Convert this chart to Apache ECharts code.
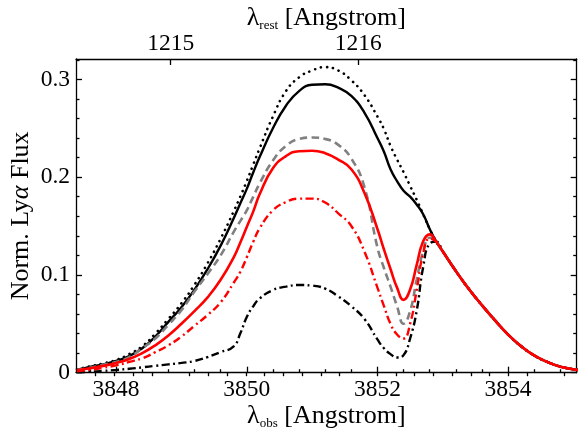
<!DOCTYPE html>
<html>
<head>
<meta charset="utf-8">
<script src="https://cdn.jsdelivr.net/npm/echarts@6/dist/echarts.min.js"></script>
<style>
html, body { margin: 0; padding: 0; background: #fff; }
#chart { width: 578px; height: 431px; }
</style>
</head>
<body>
<div id="chart"></div>
<script>
// observed wavelength grid [Angstrom]
var wl = [3847.4, 3847.6, 3847.8, 3848.0, 3848.2, 3848.4, 3848.6, 3848.8, 3849.0, 3849.2,
  3849.4, 3849.6, 3849.8, 3849.9, 3850.0, 3850.1, 3850.2, 3850.4, 3850.6, 3850.8,
  3851.0, 3851.2, 3851.4, 3851.6, 3851.8, 3852.0, 3852.1, 3852.2, 3852.3, 3852.4,
  3852.5, 3852.6, 3852.7, 3852.8, 3852.9, 3853.0, 3853.2, 3853.4, 3853.6, 3853.8,
  3854.0, 3854.2, 3854.4, 3854.6, 3854.8, 3855.0, 3855.1];

var fluxIntrinsic = [0.0035, 0.0065, 0.0095, 0.013, 0.019, 0.027, 0.040, 0.055, 0.071, 0.090,
  0.112, 0.137, 0.165, 0.180, 0.196, 0.213, 0.230, 0.262, 0.288, 0.302,
  0.309, 0.3125, 0.309, 0.299, 0.284, 0.262, 0.249, 0.232, 0.218, 0.205,
  0.191, 0.177, 0.162, 0.147, 0.134, 0.124, 0.104, 0.0855, 0.069, 0.0535,
  0.039, 0.027, 0.0176, 0.011, 0.0062, 0.0035, 0.0026];

var fluxSolidBlack = [0.003, 0.006, 0.0085, 0.012, 0.017, 0.025, 0.037, 0.052, 0.067, 0.085,
  0.106, 0.130, 0.158, 0.173, 0.188, 0.205, 0.221, 0.250, 0.273, 0.288,
  0.2945, 0.295, 0.2915, 0.283, 0.266, 0.240, 0.226, 0.208, 0.196, 0.186,
  0.180, 0.172, 0.162, 0.147, 0.134, 0.124, 0.104, 0.0855, 0.069, 0.0535,
  0.039, 0.027, 0.0176, 0.011, 0.0062, 0.0035, 0.0026];

var fluxGrey = [0.003, 0.005, 0.008, 0.011, 0.016, 0.025, 0.035, 0.049, 0.064, 0.083,
  0.101, 0.120, 0.144, 0.155, 0.166, 0.180, 0.194, 0.217, 0.232, 0.239,
  0.2405, 0.239, 0.233, 0.219, 0.190, 0.128, 0.107, 0.088, 0.068, 0.050,
  0.063, 0.095, 0.124, 0.138, 0.134, 0.124, 0.104, 0.0855, 0.069, 0.0535,
  0.039, 0.027, 0.0176, 0.011, 0.0062, 0.0035, 0.0026];

var fluxRed = [0.0025, 0.0045, 0.007, 0.010, 0.014, 0.020, 0.028, 0.038, 0.050, 0.063,
  0.077, 0.095, 0.118, 0.133, 0.149, 0.165, 0.183, 0.209, 0.2215, 0.2265,
  0.227, 0.2245, 0.218, 0.208, 0.184, 0.147, 0.126, 0.106, 0.087, 0.0745,
  0.085, 0.110, 0.1345, 0.1415, 0.134, 0.124, 0.104, 0.0855, 0.069, 0.0535,
  0.039, 0.027, 0.0176, 0.011, 0.0062, 0.0035, 0.0026];

var fluxRedDashDot = [0.0015, 0.003, 0.005, 0.0075, 0.011, 0.0147, 0.021, 0.028, 0.037, 0.048,
  0.059, 0.072, 0.092, 0.103, 0.118, 0.134, 0.148, 0.166, 0.1745, 0.178,
  0.178, 0.174, 0.163, 0.150, 0.124, 0.087, 0.068, 0.050, 0.039, 0.035,
  0.050, 0.084, 0.122, 0.137, 0.134, 0.124, 0.104, 0.0855, 0.069, 0.0535,
  0.039, 0.027, 0.0176, 0.011, 0.0062, 0.0035, 0.0026];

var fluxBlackDashDot = [0.0005, 0.001, 0.0018, 0.0028, 0.004, 0.0055, 0.007, 0.0085, 0.010, 0.012,
  0.016, 0.021, 0.027, 0.040, 0.057, 0.068, 0.076, 0.0845, 0.088, 0.0897,
  0.089, 0.086, 0.078, 0.068, 0.055, 0.034, 0.025, 0.019, 0.0155, 0.018,
  0.035, 0.063, 0.108, 0.132, 0.134, 0.124, 0.104, 0.0855, 0.069, 0.0535,
  0.039, 0.027, 0.0176, 0.011, 0.0062, 0.0035, 0.0026];

// ticks
var obsMajor = [3848, 3850, 3852, 3854];
var obsMinor = [3847.6, 3848.4, 3848.8, 3849.2, 3849.6, 3850.4, 3850.8, 3851.2, 3851.6,
  3852.4, 3852.8, 3853.2, 3853.6, 3854.4, 3854.8];
var restMajor = [1215, 1216];
var restMinor = [1214.6, 1214.7, 1214.8, 1214.9, 1215.1, 1215.2, 1215.3, 1215.4, 1215.5,
  1215.6, 1215.7, 1215.8, 1215.9, 1216.1, 1216.2, 1216.3, 1216.4, 1216.5, 1216.6,
  1216.7, 1216.8, 1216.9, 1217.1];
var fluxMajor = [0, 0.1, 0.2, 0.3];
var fluxMinor = [0.02, 0.04, 0.06, 0.08, 0.12, 0.14, 0.16, 0.18, 0.22, 0.24, 0.26, 0.28, 0.32];

var FONT = 'Liberation Serif';
var obsRange = [3847.386, 3855.05];
var restRange = [1214.495, 1217.164];
var yRange = [0, 0.3208];

function pairs(arr) {
  return wl.map(function (x, i) { return [x, arr[i]]; });
}

function plain(v) { return String(v); }

function tickAxis(base, major, minor, labels) {
  var lineStyle = { color: '#000', width: 1.3 };
  var a = Object.assign({ nameMoveOverlap: false }, base, {
    axisLine: { show: true, onZero: false, lineStyle: lineStyle },
    axisTick: { show: true, inside: true, length: 6, customValues: major, lineStyle: lineStyle },
    splitLine: { show: false },
    axisLabel: labels ? Object.assign({ customValues: major, fontFamily: FONT, fontSize: 23.5,
      color: '#000', formatter: plain }, labels) : { show: false }
  });
  var b = Object.assign({}, base, {
    name: '',
    axisLine: { show: false },
    axisTick: { show: true, inside: true, length: 3.5, customValues: minor, lineStyle: lineStyle },
    splitLine: { show: false },
    axisLabel: { show: false }
  });
  return [a, b];
}

var chart = echarts.init(document.getElementById('chart'));

var subRich = {
  g: { fontFamily: FONT, fontSize: 26, color: '#000' },
  s: { fontFamily: FONT, fontSize: 13, color: '#000', padding: [15, 0, 0, 0] }
};

var bottomAxes = tickAxis({
  type: 'value', position: 'bottom', min: obsRange[0], max: obsRange[1],
  name: '{g|λ}{s|obs}{g| [Angstrom]}', nameLocation: 'middle', nameGap: 29,
  nameTextStyle: { fontFamily: FONT, fontSize: 26, color: '#000', rich: subRich }
}, obsMajor, obsMinor, { margin: 5 });

var topAxes = tickAxis({
  type: 'value', position: 'top', min: restRange[0], max: restRange[1],
  name: '{g|λ}{s|rest}{g| [Angstrom]}', nameLocation: 'middle', nameGap: 27,
  nameTextStyle: { fontFamily: FONT, fontSize: 26, color: '#000', rich: subRich }
}, restMajor, restMinor, { margin: 3 });

var leftAxes = tickAxis({
  type: 'value', position: 'left', min: yRange[0], max: yRange[1],
  name: '{t|Norm. Ly}{a|α}{t| Flux}', nameLocation: 'middle', nameGap: 42,
  nameTextStyle: { fontFamily: FONT, fontSize: 26, color: '#000',
    rich: { t: { fontFamily: FONT, fontSize: 26, color: '#000' },
            a: { fontFamily: FONT, fontSize: 26, color: '#000', fontStyle: 'italic' } } }
}, fluxMajor, fluxMinor, { margin: 6 });

var rightAxes = tickAxis({
  type: 'value', position: 'right', min: yRange[0], max: yRange[1]
}, fluxMajor, fluxMinor, null);

var option = {
  backgroundColor: '#fff',
  animation: false,
  grid: { left: 76, right: 1.3, top: 59, bottom: 58.3, containLabel: false, outerBoundsMode: 'none' },
  xAxis: [bottomAxes[0], bottomAxes[1], topAxes[0], topAxes[1]],
  yAxis: [leftAxes[0], leftAxes[1], rightAxes[0], rightAxes[1]],
  series: [
    { name: 'intrinsic', data: pairs(fluxIntrinsic),
      lineStyle: { color: '#000', width: 2.6, type: [0.1, 6], cap: 'round' } },
    { name: 'total', data: pairs(fluxSolidBlack),
      lineStyle: { color: '#000', width: 2.4 } },
    { name: 'grey', data: pairs(fluxGrey),
      lineStyle: { color: '#808080', width: 2.6, type: [7.5, 4.5] } },
    { name: 'blackDashDot', data: pairs(fluxBlackDashDot),
      lineStyle: { color: '#000', width: 2.4, type: [8, 3.5, 2, 3.5] } },
    { name: 'redDashDot', data: pairs(fluxRedDashDot),
      lineStyle: { color: '#ff0000', width: 2.4, type: [8, 3.5, 2, 3.5] } },
    { name: 'red', data: pairs(fluxRed),
      lineStyle: { color: '#ff0000', width: 2.6 } }
  ].map(function (s) {
    return Object.assign({ type: 'line', xAxisIndex: 0, yAxisIndex: 0, showSymbol: false,
      smooth: 0.5, clip: true }, s);
  })
};

chart.setOption(option);
</script>
</body>
</html>
